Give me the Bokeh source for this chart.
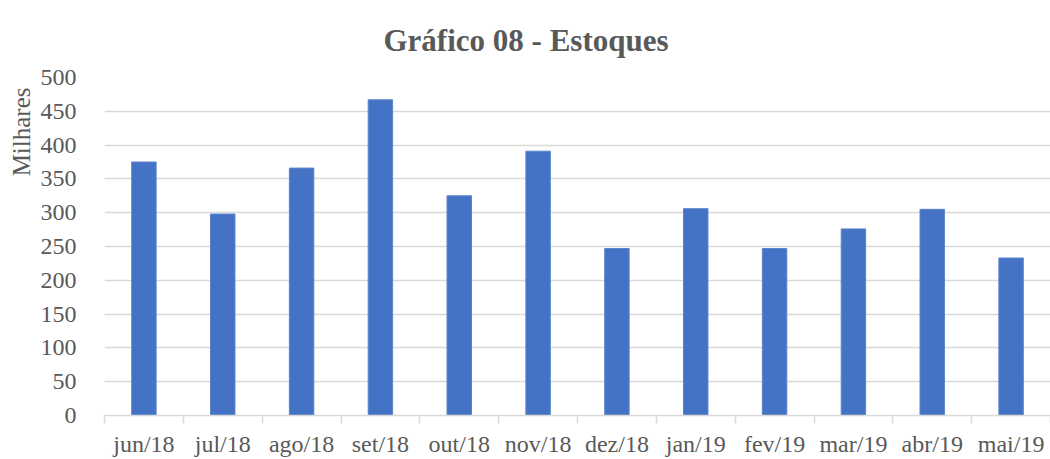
from bokeh.plotting import figure
from bokeh.models import (FactorRange, Range1d, LinearAxis, CategoricalAxis, FixedTicker,
                          Title, ColumnDataSource)
from bokeh.embed import file_html
from bokeh.resources import INLINE

# ---- data ----
months = ["jun/18", "jul/18", "ago/18", "set/18", "out/18", "nov/18",
          "dez/18", "jan/19", "fev/19", "mar/19", "abr/19", "mai/19"]
estoques = [375, 298, 366, 467, 325, 391, 247, 306, 247, 276, 305, 233]
y_ticks = list(range(0, 501, 50))

FONT = "Liberation Serif"
GRAY = "#595959"
GRID = "#d9d9d9"

p = figure(width=1050, height=459, output_backend="svg", toolbar_location=None,
           x_range=FactorRange(factors=months, range_padding=0),
           y_range=Range1d(0, 500), x_axis_location=None,
           min_border_left=104, min_border_right=0, min_border_top=77, min_border_bottom=0)
p.outline_line_color = None
p.background_fill_color = "white"
p.border_fill_color = "white"

src = ColumnDataSource(dict(m=months, v=estoques))
p.vbar(x="m", top="v", width=0.31, source=src, fill_color="#4472C4", line_color="#5b84cc",
       line_width=1)

# y axis
p.yaxis.ticker = FixedTicker(ticks=y_ticks)
p.yaxis.axis_line_color = None
p.yaxis.major_tick_line_color = None
p.yaxis.minor_tick_line_color = None
p.yaxis.major_label_text_font = FONT
p.yaxis.major_label_text_font_size = "24px"
p.yaxis.major_label_text_color = GRAY
p.yaxis.major_label_standoff = 22

p.xgrid.grid_line_color = None
p.ygrid.ticker = FixedTicker(ticks=y_ticks)
p.ygrid.grid_line_color = GRID
p.ygrid.grid_line_width = 1.5

# boundary tick axis (category boundaries in the factor range's synthetic coordinates)
tick_axis = LinearAxis(ticker=FixedTicker(ticks=list(range(len(months) + 1))),
                       axis_line_color=GRID, axis_line_width=1.5,
                       major_tick_line_color=GRID, major_tick_line_width=1.5,
                       major_tick_in=0, major_tick_out=8,
                       minor_tick_line_color=None,
                       major_label_text_font_size="0px", major_label_standoff=0)
p.add_layout(tick_axis, "below")

cat_axis = CategoricalAxis(axis_line_color=None, major_tick_line_color=None,
                           major_label_text_font=FONT, major_label_text_font_size="24px",
                           major_label_text_color=GRAY, major_label_standoff=1)
p.add_layout(cat_axis, "below")

# chart title
t = Title(text="Gráfico 08 - Estoques", align="left", text_font=FONT,
          text_font_size="31px", text_font_style="bold", text_color=GRAY,
          standoff=39, offset=279)
p.add_layout(t, "above")

# axis display-unit label
yl = Title(text="Milhares", align="right", text_font=FONT, text_font_size="25px",
           text_font_style="normal", text_color=GRAY, offset=10, standoff=6)
p.add_layout(yl, "left")

open("out.html", "w").write(file_html(p, INLINE))
